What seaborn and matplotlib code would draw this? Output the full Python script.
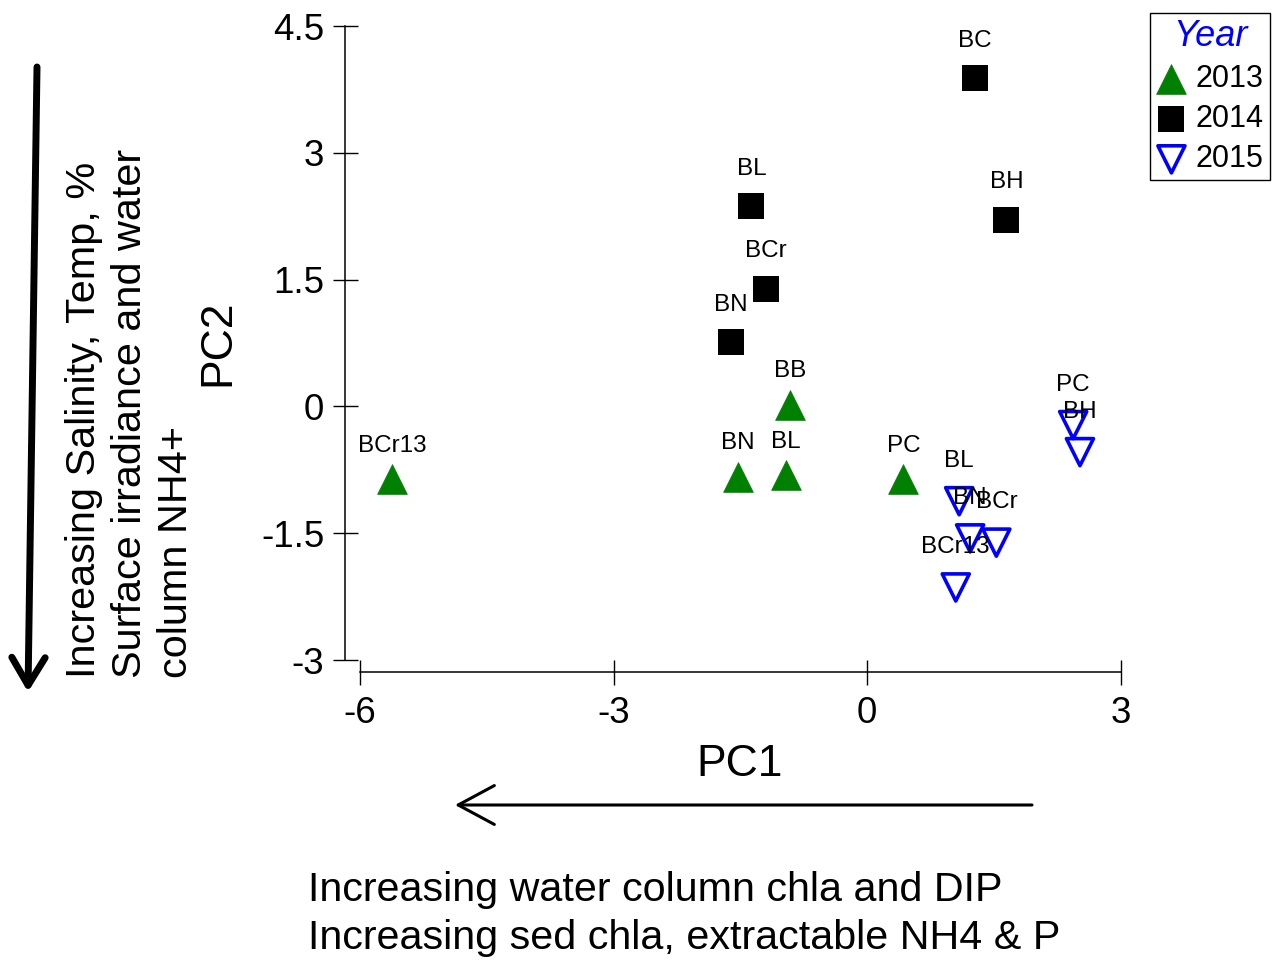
import matplotlib
matplotlib.use("Agg")
import matplotlib.pyplot as plt
from matplotlib.patches import FancyArrowPatch
import seaborn as sns
import pandas as pd

# ---- data ----
sites_2013 = ["BCr13", "BN", "BL", "BB", "PC"]
pc1_2013 = [-5.62, -1.53, -0.96, -0.91, 0.43]
pc2_2013 = [-0.86, -0.83, -0.81, 0.02, -0.86]

sites_2014 = ["BC", "BL", "BH", "BCr", "BN"]
pc1_2014 = [1.28, -1.37, 1.65, -1.20, -1.61]
pc2_2014 = [3.88, 2.37, 2.21, 1.39, 0.76]

sites_2015 = ["PC", "BH", "BL", "BN", "BCr", "BCr13"]
pc1_2015 = [2.44, 2.52, 1.09, 1.22, 1.53, 1.05]
pc2_2015 = [-0.22, -0.54, -1.12, -1.56, -1.61, -2.14]

x_ticks = [-6, -3, 0, 3]
y_ticks = [-3, -1.5, 0, 1.5, 3, 4.5]
y_tick_labels = ["-3", "-1.5", "0", "1.5", "3", "4.5"]

sns.set_theme(style="white")
plt.rcParams["font.family"] = ["Liberation Sans", "DejaVu Sans"]
plt.rcParams["text.color"] = "black"
plt.rcParams["axes.labelcolor"] = "black"
plt.rcParams["xtick.color"] = "black"
plt.rcParams["ytick.color"] = "black"

W, H = 1278, 966
fig = plt.figure(figsize=(W / 100, H / 100), dpi=100)
ax = fig.add_axes([345 / W, 1 - 672 / H, 777.2 / W, 646 / H])
ax.set_facecolor("white")

df13 = pd.DataFrame({"PC1": pc1_2013, "PC2": pc2_2013, "site": sites_2013})
df14 = pd.DataFrame({"PC1": pc1_2014, "PC2": pc2_2014, "site": sites_2014})
df15 = pd.DataFrame({"PC1": pc1_2015, "PC2": pc2_2015, "site": sites_2015})

sns.scatterplot(data=df13, x="PC1", y="PC2", ax=ax, marker="^", s=460,
                color="#008000", edgecolor="#008000", linewidth=0.5,
                label="2013", clip_on=False, zorder=3)
sns.scatterplot(data=df14, x="PC1", y="PC2", ax=ax, marker="s", s=330,
                color="black", edgecolor="black", linewidth=0,
                label="2014", clip_on=False, zorder=3)
sns.scatterplot(data=df15, x="PC1", y="PC2", ax=ax, marker="v", s=380,
                facecolors="none", edgecolor="#0000FF", linewidth=2.6,
                label="2015", clip_on=False, zorder=3)

lab_fs = 17.5
for df, off in ((df13, 24), (df14, 27), (df15, 29)):
    for _, r in df.iterrows():
        ax.annotate(r["site"], (r["PC1"], r["PC2"]), xytext=(0, off),
                    textcoords="offset points", ha="center", va="center",
                    fontsize=lab_fs, color="black", zorder=4)

ax.set_xlim(-6.18, 3.02)
ax.set_ylim(-3.14, 4.5)
ax.set_xticks(x_ticks)
ax.set_xticklabels([str(t) for t in x_ticks])
ax.set_yticks(y_ticks)
ax.set_yticklabels(y_tick_labels)

for s in ("top", "right"):
    ax.spines[s].set_visible(False)
for s in ("left", "bottom"):
    ax.spines[s].set_color("black")
    ax.spines[s].set_linewidth(1.1)
ax.spines["left"].set_bounds(-3, 4.5)
ax.spines["bottom"].set_bounds(-6, 3)

ax.tick_params(axis="both", which="major", direction="inout", length=18,
               width=1.0, color="black", labelsize=26.5, labelcolor="black",
               pad=6, left=True, bottom=True)
ax.tick_params(axis="x", pad=8)
ax.grid(False)
ax.set_xlabel("")
ax.set_ylabel("")

# axis titles
fig.text(740 / W, 1 - 764 / H, "PC1", fontsize=32, ha="center", va="center",
         color="black")
fig.text(218 / W, 1 - 343 / H, "PC2", fontsize=32, ha="center", va="center",
         rotation=90, color="black")

# left description
fig.text(130 / W, 1 - 678 / H,
         "Increasing Salinity, Temp, %\nSurface irradiance and water\ncolumn NH4+",
         fontsize=29.8, rotation=90, ha="center", va="bottom",
         multialignment="left", linespacing=1.27, color="black")

# bottom description
fig.text(308 / W, 1 - 914 / H,
         "Increasing water column chla and DIP\nIncreasing sed chla, extractable NH4 & P",
         fontsize=29.7, ha="left", va="center", multialignment="left",
         linespacing=1.33, color="black")

# arrows
fig.add_artist(FancyArrowPatch((1032 / W, 1 - 805 / H), (455 / W, 1 - 805 / H),
                               transform=fig.transFigure,
                               arrowstyle="->,head_length=26,head_width=14",
                               mutation_scale=1, lw=2.2, color="black",
                               shrinkA=0, shrinkB=0))
fig.add_artist(FancyArrowPatch((37 / W, 1 - 67 / H), (28 / W, 1 - 692 / H),
                               transform=fig.transFigure,
                               arrowstyle="->,head_length=20,head_width=12",
                               mutation_scale=1, lw=5, color="black",
                               shrinkA=0, shrinkB=0, capstyle="round",
                               joinstyle="round"))

# legend
handles, labels = ax.get_legend_handles_labels()
if ax.get_legend() is not None:
    ax.get_legend().remove()
leg = fig.legend(handles, labels, loc="upper right",
                 bbox_to_anchor=(1270 / W, 1 - 13 / H),
                 title="Year", fontsize=22, frameon=True, fancybox=False,
                 framealpha=1, edgecolor="black", handlelength=1.0,
                 handletextpad=0.3, labelspacing=0.33, borderpad=0.2,
                 borderaxespad=0, markerscale=1.0)
leg.get_frame().set_linewidth(1.0)
for t in leg.get_texts():
    t.set_color("black")
tt = leg.get_title()
tt.set_fontsize(26)
tt.set_color("#0000FF")
tt.set_fontstyle("italic")

fig.savefig("out.png", dpi=100, facecolor="white")
